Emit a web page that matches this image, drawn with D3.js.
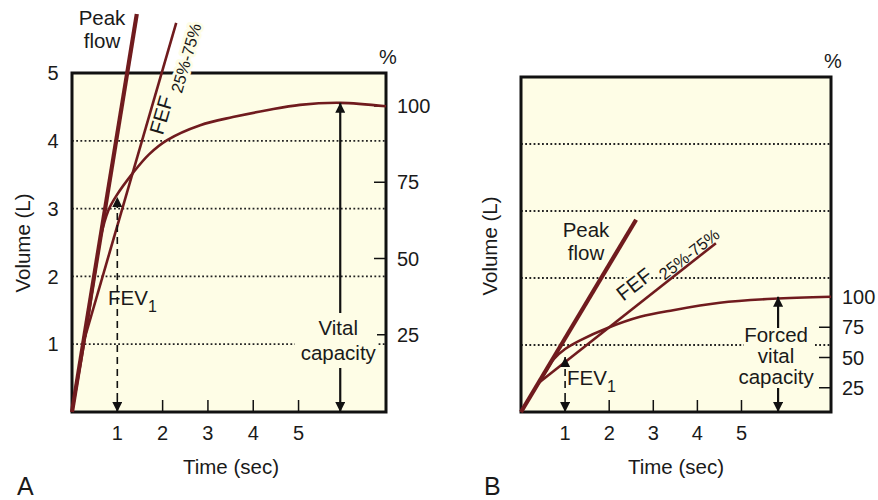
<!DOCTYPE html>
<html><head><meta charset="utf-8">
<script src="https://cdn.jsdelivr.net/npm/d3@7"></script>
<style>
body{margin:0;background:#fff;}
text{font-family:"Liberation Sans",Arial,Helvetica,sans-serif;fill:#1a1a1a;}
</style></head><body>
<svg id="c" width="878" height="500"></svg>
<script>
// ---- data ----
const timeTicks = [1, 2, 3, 4, 5];
const volumeTicks = [1, 2, 3, 4, 5];
const gridVolumes = [1, 2, 3, 4];
const percentTicks = [25, 50, 75, 100];

// Panel A: [time (s), volume (L)]
const curveA = [[0,0],[0.29,1.11],[0.49,1.98],[0.64,2.6],[0.80,2.97],[0.97,3.18],[1.35,3.53],[1.70,3.80],[2.10,4.01],[2.83,4.23],[3.55,4.35],[4.30,4.45],[5.03,4.53],[5.92,4.56],[6.93,4.51]];
const peakFlowA = [[0,0],[1.43,5.87]];
const fefA = [[0.29,1.11],[2.30,5.74]];
const fev1A = [1, 3.17];
const vitalCapacityA = [5.92, 4.56];

// Panel B
const curveB = [[0,0],[0.20,0.22],[0.39,0.42],[0.57,0.61],[0.73,0.78],[1.0,0.94],[1.34,1.07],[1.95,1.25],[2.70,1.42],[3.45,1.52],[4.51,1.63],[5.71,1.69],[7.03,1.72]];
const peakFlowB = [[0,0],[2.61,2.87]];
const fefB = [[0.39,0.43],[4.42,2.52]];
const fev1B = [1, 0.82];
const forcedVitalCapacityB = [5.83, 1.72];

// ---- drawing ----
const svg = d3.select("#c");
const RED = "#701b1e", FILL = "#fefde6", INK = "#111";

const defs = svg.append("defs");
defs.append("marker").attr("id","arr").attr("viewBox","0 0 10 10")
  .attr("refX",10).attr("refY",5).attr("markerUnits","userSpaceOnUse")
  .attr("markerWidth",15).attr("markerHeight",10).attr("orient","auto-start-reverse")
  .append("path").attr("d","M0,0L10,5L0,10z").attr("fill",INK);

function panel(cfg){
  const g = svg.append("g");
  const x = d3.scaleLinear().domain([0, cfg.tMax]).range([cfg.x0, cfg.x1]);
  const y = d3.scaleLinear().domain([0, 5]).range([cfg.y0, cfg.y1]);
  const p = d3.scaleLinear().domain([0, 100]).range(cfg.pctRange);
  const line = d3.line().x(d => x(d[0])).y(d => y(d[1]));

  g.append("rect").attr("x",cfg.x0).attr("y",cfg.y1).attr("width",cfg.x1-cfg.x0).attr("height",cfg.y0-cfg.y1).attr("fill",FILL);
  g.selectAll(".grid").data(gridVolumes).join("line")
    .attr("x1",cfg.x0).attr("x2",cfg.x1).attr("y1",d=>y(d)).attr("y2",d=>y(d))
    .attr("stroke","#222").attr("stroke-width",1.8).attr("stroke-dasharray","1.8,2.4");

  // x ticks
  g.selectAll(".xt").data(timeTicks).join("line")
    .attr("x1",d=>x(d)).attr("x2",d=>x(d)).attr("y1",cfg.y0).attr("y2",cfg.y0-12)
    .attr("stroke",INK).attr("stroke-width",1.5);
  g.selectAll(".xl").data(timeTicks).join("text")
    .attr("x",d=>x(d)).attr("y",cfg.y0+28).attr("text-anchor","middle").attr("font-size",20).text(d=>d);
  // left labels
  if (cfg.leftLabels) {
    g.selectAll(".yl").data(volumeTicks).join("text")
      .attr("x",cfg.x0-19).attr("y",d=>y(d)).attr("dy","0.36em").attr("text-anchor","middle").attr("font-size",20).text(d=>d);
  }
  // right percent axis
  g.selectAll(".pt").data(percentTicks).join("line")
    .attr("x1",cfg.x1-12).attr("x2",cfg.x1).attr("y1",d=>p(d)).attr("y2",d=>p(d))
    .attr("stroke",INK).attr("stroke-width",1.5);
  g.selectAll(".pl").data(percentTicks).join("text")
    .attr("x",cfg.x1+11).attr("y",d=>p(d)).attr("dy","0.36em").attr("font-size",20).text(d=>d);
  g.append("text").attr("x",cfg.x1+2).attr("y",cfg.pctLabelY).attr("text-anchor","middle").attr("font-size",20).text("%");

  // titles
  g.append("text").attr("x",(cfg.tickTitleX)).attr("y",474).attr("text-anchor","middle").attr("font-size",20.5).text("Time (sec)");
  g.append("text").attr("transform",`translate(${cfg.volTitleX},${cfg.volTitleY}) rotate(-90)`).attr("text-anchor","middle").attr("font-size",20.5).text("Volume (L)");
  g.append("text").attr("x",cfg.letterX).attr("y",495).attr("font-size",25).text(cfg.letter);

  // capacity label block with knock-out background
  const cap = cfg.capacity;
  g.append("rect").attr("x",cap.bx).attr("y",cap.by).attr("width",cap.bw).attr("height",cap.bh).attr("fill",FILL);
  cap.lines.forEach((t,i)=>{
    g.append("text").attr("x",x(cap.t)-2).attr("y",cap.baseline + i*cap.lh).attr("text-anchor","middle").attr("font-size",20.5).text(t);
  });

  // FEF label
  const f = cfg.fefLabel;
  const halo = s => s.attr("stroke",FILL).attr("stroke-width",6).attr("stroke-linejoin","round").attr("paint-order","stroke");
  g.append("text").attr("transform",`translate(${f.x},${f.y}) rotate(${f.angle})`).attr("text-anchor","middle").attr("dy","0.36em").attr("font-size",20.5).call(halo).text("FEF");

  // Peak flow label
  g.append("text").attr("x",cfg.peak.x).attr("y",cfg.peak.y).attr("text-anchor","middle").attr("font-size",20.5).text("Peak");
  g.append("text").attr("x",cfg.peak.x).attr("y",cfg.peak.y+23).attr("text-anchor","middle").attr("font-size",20.5).text("flow");

  // FEV1 label
  const fv = g.append("text").attr("x",cfg.fevLabel.x).attr("y",cfg.fevLabel.y).attr("font-size",20.5);
  fv.append("tspan").text("FEV");
  fv.append("tspan").attr("dy",7).attr("font-size",16).text("1");

  // border
  g.append("rect").attr("x",cfg.x0).attr("y",cfg.y1).attr("width",cfg.x1-cfg.x0).attr("height",cfg.y0-cfg.y1)
    .attr("fill","none").attr("stroke",INK).attr("stroke-width",3);
  // FEF subscript (knocks out border where it crosses)
  g.append("text").attr("transform",`translate(${f.sx},${f.sy}) rotate(${f.angle})`).attr("text-anchor","middle").attr("dy","0.36em").attr("font-size",16.5).call(halo).text("25%-75%");

  // curves
  g.append("path").attr("d",d3.line().x(d=>x(d[0])).y(d=>y(d[1])).curve(d3.curveCatmullRom.alpha(0.5))(cfg.curve))
    .attr("fill","none").attr("stroke",RED).attr("stroke-width",2.6);
  g.append("path").attr("d",line(cfg.fef)).attr("fill","none").attr("stroke",RED).attr("stroke-width",2.6);
  g.append("path").attr("d",line(cfg.peakLine)).attr("fill","none").attr("stroke",RED).attr("stroke-width",4.2);

  // FEV1 dashed arrow
  g.append("line").attr("x1",x(cfg.fev1[0])).attr("x2",x(cfg.fev1[0]))
    .attr("y1",y(0)).attr("y2",y(cfg.fev1[1]))
    .attr("stroke",INK).attr("stroke-width",1.6).attr("stroke-dasharray","7,5")
    .attr("marker-start","url(#arr)").attr("marker-end","url(#arr)");

  // capacity arrows
  const cx = x(cap.t);
  g.append("line").attr("x1",cx).attr("x2",cx).attr("y1",cap.upFrom).attr("y2",y(cap.v))
    .attr("stroke",INK).attr("stroke-width",2.2).attr("marker-end","url(#arr)");
  g.append("line").attr("x1",cx).attr("x2",cx).attr("y1",cap.downFrom).attr("y2",y(0))
    .attr("stroke",INK).attr("stroke-width",2.2).attr("marker-end","url(#arr)");
}

panel({
  x0:72, x1:386, y0:412, y1:73, tMax:6.93, pctRange:[411,106], pctLabelY:64,
  leftLabels:true, tickTitleX:231, volTitleX:30, volTitleY:243, letter:"A", letterX:17,
  curve:curveA, peakLine:peakFlowA, fef:fefA, fev1:fev1A,
  capacity:{t:vitalCapacityA[0], v:vitalCapacityA[1], lines:["Vital","capacity"], baseline:335, lh:25,
            bx:295, by:317, bw:82, bh:49, upFrom:313, downFrom:368},
  fefLabel:{x:161, y:115, sx:186, sy:58, angle:-73.8},
  peak:{x:102, y:25},
  fevLabel:{x:108, y:305}
});

panel({
  x0:521, x1:831, y0:412, y1:77, tMax:7.03, pctRange:[418,297], pctLabelY:68,
  leftLabels:false, tickTitleX:676, volTitleX:497, volTitleY:246, letter:"B", letterX:484,
  curve:curveB, peakLine:peakFlowB, fef:fefB, fev1:fev1B,
  capacity:{t:forcedVitalCapacityB[0], v:forcedVitalCapacityB[1], lines:["Forced","vital","capacity"], baseline:342, lh:21,
            bx:744, by:326, bw:70, bh:62, upFrom:328, downFrom:388},
  fefLabel:{x:634, y:284, sx:689, sy:254, angle:-38},
  peak:{x:586, y:237},
  fevLabel:{x:567, y:385}
});
</script>
</body></html>
